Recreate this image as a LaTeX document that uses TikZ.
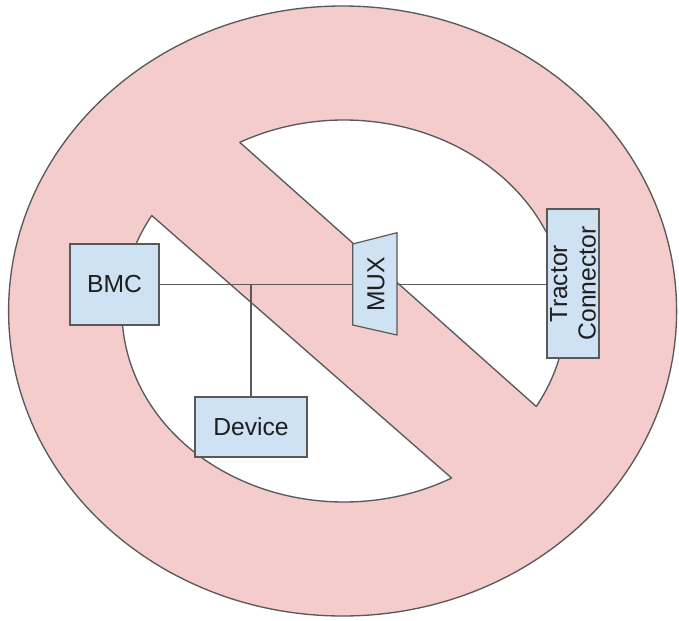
\documentclass[tikz,border=0pt]{standalone}
\usepackage{fontspec}
\setmainfont{Liberation Sans}
\usetikzlibrary{calc}
\definecolor{pinkfill}{HTML}{F4CCCC}
\definecolor{bluefill}{HTML}{CFE2F3}
\definecolor{edgegray}{HTML}{595959}
\definecolor{ink}{HTML}{1E1E1E}
\begin{document}
\begin{tikzpicture}[x=0.75pt,y=0.75pt,
  box/.style={draw=edgegray, fill=bluefill, line width=0.9pt, text=ink,
    font=\fontsize{18.5}{21.4}\selectfont, inner sep=0pt, align=center},
  wire/.style={draw=edgegray, line width=0.8pt},
  sign/.style={draw=edgegray, line width=1pt, line join=round}]
\useasboundingbox (0,0) rectangle (679,-621);
\coordinate (C) at (342.6,-311);
\coordinate (Ci) at (344,-311);
% prohibition sign
\filldraw[sign, fill=pinkfill] (C) ellipse [x radius=250.5pt, y radius=228.75pt];
\filldraw[sign, fill=white] ($(Ci)+(-30:166.5pt and 143.25pt)$)
  arc[start angle=-30, end angle=118, x radius=166.5pt, y radius=143.25pt] -- cycle;
\filldraw[sign, fill=white] ($(Ci)+(150:166.5pt and 143.25pt)$)
  arc[start angle=150, end angle=299, x radius=166.5pt, y radius=143.25pt] -- cycle;
% boxes
\node[box, minimum width=66.75pt, minimum height=60.75pt] (bmc) at (114.5,-284.5) {BMC};
\node[box, minimum width=84pt, minimum height=45pt] (dev) at (251,-427) {Device};
\node[box, rotate=90, minimum width=111.75pt, minimum height=39pt] (trac) at (573,-283.5) {Tractor\\Connector};
% MUX trapezoid
\coordinate (m1) at (352.7,-244);
\coordinate (m2) at (397,-232.7);
\coordinate (m3) at (397,-335);
\coordinate (m4) at (352.7,-325);
\filldraw[draw=edgegray, fill=bluefill, line width=0.9pt] (m1) -- (m2) -- (m3) -- (m4) -- cycle;
\node[text=ink, font=\fontsize{18.5}{21.4}\selectfont, rotate=90, inner sep=0pt] (mux) at (376,-284.5) {MUX};
\coordinate (muxin) at (352.7,-284.5);
\coordinate (muxout) at (397,-284.5);
% connectors
\draw[wire] (bmc.east) -- (muxin);
\draw[wire] (dev.north) |- (muxin);
\draw[wire] (muxout) -- (muxout -| trac.north);
\end{tikzpicture}
\end{document}
